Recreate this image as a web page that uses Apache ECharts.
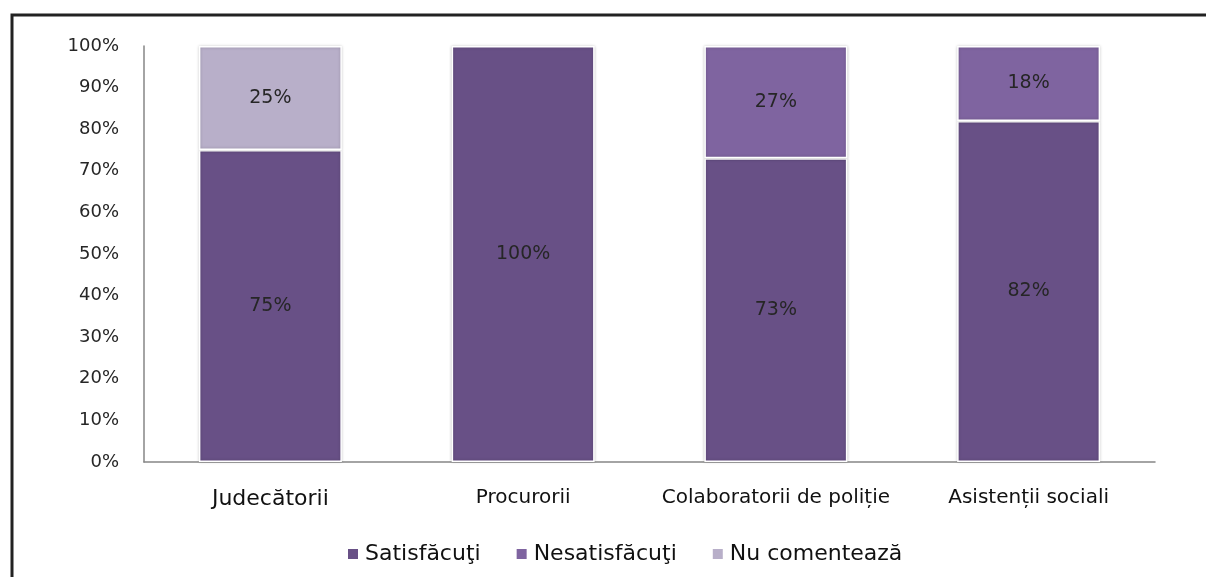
<!DOCTYPE html>
<html>
<head>
<meta charset="utf-8">
<script src="https://cdn.jsdelivr.net/npm/echarts@6/dist/echarts.min.js"></script>
<style>html,body{margin:0;padding:0;background:#fff}#c{width:1206px;height:577px}</style>
</head>
<body>
<div id="c"></div>
<script>
const categories = ['Judecătorii', 'Procurorii', 'Colaboratorii de poliție', 'Asistenții sociali'];
const seriesNames = ['Satisfăcuţi', 'Nesatisfăcuţi', 'Nu comentează'];
const satisfacuti = [75, 100, 73, 82];
const nesatisfacuti = [null, null, 27, 18];
const nuComenteaza = [25, null, null, null];
const yTicks = [0, 10, 20, 30, 40, 50, 60, 70, 80, 90, 100];
const colors = ['#685086', '#7F64A0', '#B8AFC9'];

const chart = echarts.init(document.getElementById('c'), null, {renderer: 'canvas'});
const font = 'DejaVu Sans';
function mk(name, data, color) {
  return {
    name: name, type: 'bar', stack: 'total', data: data, barWidth: 143,
    itemStyle: {color: color, borderColor: '#fff', borderWidth: 1.5,
      shadowBlur: 3, shadowColor: 'rgba(0,0,0,0.22)'},
    label: {show: true, position: 'inside', formatter: '{c}%', color: '#262626',
      fontFamily: font, fontSize: 19},
    emphasis: {disabled: true}
  };
}
chart.setOption({
  animation: false,
  backgroundColor: '#fff',
  graphic: [{type: 'rect', shape: {x: 12, y: 15, width: 1400, height: 800},
    style: {fill: 'none', stroke: '#222', lineWidth: 3}, silent: true}],
  grid: {left: 144, right: 51, top: 46, bottom: 115, containLabel: false},
  legend: {
    data: seriesNames, left: 341, top: 538, itemWidth: 12, itemHeight: 12, itemGap: 34,
    icon: 'rect',
    textStyle: {fontFamily: font, fontSize: 22, color: '#111', padding: [0, 0, 0, 1]}
  },
  xAxis: {
    type: 'category', data: categories,
    axisLine: {lineStyle: {color: '#868686', width: 1.5}},
    axisTick: {show: false},
    axisLabel: {
      margin: 26, color: '#111', fontFamily: font, fontSize: 20, interval: 0,
      formatter: function (v, i) { return i === 0 ? '{a|' + v + '}' : v; },
      rich: {a: {fontFamily: font, fontSize: 22, color: '#111'}}
    }
  },
  yAxis: {
    type: 'value', min: 0, max: 100, interval: 10,
    axisLine: {show: true, lineStyle: {color: '#868686', width: 1.5}},
    axisTick: {show: false},
    splitLine: {show: false},
    axisLabel: {
      margin: 25, color: '#262626', fontFamily: font, fontSize: 18,
      formatter: function (v) { return yTicks.indexOf(v) >= 0 ? v + '%' : ''; }
    }
  },
  series: [
    mk(seriesNames[0], satisfacuti, colors[0]),
    mk(seriesNames[1], nesatisfacuti, colors[1]),
    mk(seriesNames[2], nuComenteaza, colors[2])
  ]
});
</script>
</body>
</html>
